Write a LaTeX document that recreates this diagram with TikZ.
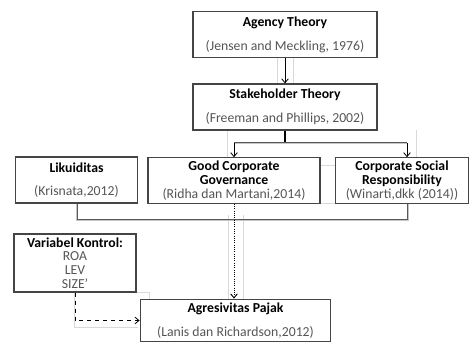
\documentclass[tikz,border=0pt]{standalone}
\usepackage{fontspec}
\setmainfont{Carlito}
\usetikzlibrary{arrows.meta,positioning}
\definecolor{boxline}{HTML}{454545}
\definecolor{citegray}{HTML}{555555}
\tikzset{
  box/.style={draw=boxline,line width=0.9pt,inner sep=0pt,align=center,font=\fontsize{10.3}{10.3}\selectfont},
  link/.style={draw=black!65,double=gray!45,double distance=0.6pt,line width=0.45pt},
  ghost/.style={draw=gray!30,line width=0.4pt},
  >={Straight Barb[length=3pt,width=5pt]}
}
\newcommand{\src}[1]{{\color{citegray}#1}}
\begin{document}
\begin{tikzpicture}[x=0.75pt,y=-0.75pt]
  \useasboundingbox (0,0) rectangle (471,343);

  % faint outlines
  \draw[ghost] (277,57) -- (277,84) (293,57) -- (293,84);
  \draw[ghost] (227,130) -- (227,158) (416,130) -- (416,158);
  \draw[ghost] (320,165) -- (336,165) (320,203) -- (336,203);
  \draw[ghost] (228,215) -- (228,299) (243,215) -- (243,299);
  \draw[ghost] (136,292) -- (149,292) -- (149,299);
  \draw[ghost] (74,292) -- (74,327) -- (138,327);

  % boxes
  \node[box,minimum width=138pt,minimum height=34.5pt] (agency) at (285,34.5)
    {\textbf{Agency Theory}\\[7.5pt]\src{(Jensen and Meckling, 1976)}};
  \node[box,minimum width=138pt,minimum height=34.5pt] (stake) at (285,107)
    {\textbf{Stakeholder Theory}\\[7.5pt]\src{(Freeman and Phillips, 2002)}};
  \node[box,minimum width=92pt,minimum height=34.5pt] (likuid) at (76.5,180)
    {\textbf{Likuiditas}\\[7.5pt]\src{(Krisnata,2012)}};
  \node[box,minimum width=129pt,minimum height=34pt] (gcg) at (234,180.5)
    {\textbf{Good Corporate}\\\textbf{Governance}\\\src{(Ridha dan Martani,2014)}};
  \node[box,minimum width=99.5pt,minimum height=34pt] (csr) at (402,180.5)
    {\textbf{Corporate Social}\\\textbf{Responsibility}\\\src{(Winarti,dkk (2014))}};
  \node[box,minimum width=91.5pt,minimum height=43.5pt] (kontrol) at (75,263)
    {\textbf{Variabel Kontrol:}\\\src{ROA}\\\src{LEV}\\\src{SIZE'}};
  \node[box,minimum width=143pt,minimum height=32pt] (agres) at (235.5,320.5)
    {\textbf{Agresivitas Pajak}\\[7.5pt]\src{(Lanis dan Richardson,2012)}};

  % connectors
  \coordinate (split) at (285,143);
  \coordinate (hl) at (234,143);
  \coordinate (hr) at (407,143);
  \coordinate (lr) at (408,220);

  \draw[->,line width=0.6pt] (agency) -- (stake);
  \draw[line width=1.3pt] (stake.south) -- (split);
  \draw[link] (hl) -- (hr);
  \draw[->,line width=0.6pt] (hl) -- (gcg.north);
  \draw[->,line width=0.6pt] (hr) -- (hr |- csr.north);
  \draw[link] (likuid.south) |- (lr) -- (lr |- csr.south);
  \draw[->,densely dotted,line width=0.7pt] (gcg.south) -- (gcg.south |- agres.north);
  \draw[->,dashed,line width=0.6pt] (kontrol.south) |- (agres.west);
\end{tikzpicture}
\end{document}
